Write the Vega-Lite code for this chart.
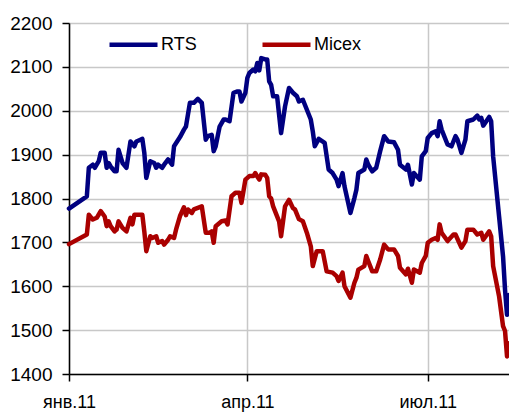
{
  "$schema": "https://vega.github.io/schema/vega-lite/v6.json",
  "autosize": "none",
  "width": 440,
  "height": 351,
  "padding": {"left": 69, "top": 23, "right": 0, "bottom": 45},
  "background": "white",
  "config": {
    "view": {"stroke": null},
    "font": "Liberation Sans",
    "axis": {
      "labelFont": "Liberation Sans",
      "labelFontSize": 18,
      "labelColor": "black",
      "domainColor": "black",
      "domainWidth": 1.5,
      "tickColor": "black",
      "tickWidth": 1.5,
      "tickSize": 7,
      "gridColor": "#c8c8c8",
      "gridWidth": 1.5,
      "title": null
    }
  },
  "data": {
    "values": [
      {"date": "2011-01-01", "index": "RTS", "value": 1777},
      {"date": "2011-01-10", "index": "RTS", "value": 1805},
      {"date": "2011-01-11", "index": "RTS", "value": 1870},
      {"date": "2011-01-13", "index": "RTS", "value": 1877},
      {"date": "2011-01-14", "index": "RTS", "value": 1870},
      {"date": "2011-01-16", "index": "RTS", "value": 1885},
      {"date": "2011-01-17", "index": "RTS", "value": 1904},
      {"date": "2011-01-19", "index": "RTS", "value": 1904},
      {"date": "2011-01-20", "index": "RTS", "value": 1870},
      {"date": "2011-01-21", "index": "RTS", "value": 1881},
      {"date": "2011-01-22", "index": "RTS", "value": 1873},
      {"date": "2011-01-24", "index": "RTS", "value": 1862},
      {"date": "2011-01-25", "index": "RTS", "value": 1862},
      {"date": "2011-01-26", "index": "RTS", "value": 1911},
      {"date": "2011-01-28", "index": "RTS", "value": 1881},
      {"date": "2011-01-30", "index": "RTS", "value": 1870},
      {"date": "2011-02-01", "index": "RTS", "value": 1930},
      {"date": "2011-02-03", "index": "RTS", "value": 1919},
      {"date": "2011-02-04", "index": "RTS", "value": 1930},
      {"date": "2011-02-06", "index": "RTS", "value": 1934},
      {"date": "2011-02-07", "index": "RTS", "value": 1936},
      {"date": "2011-02-08", "index": "RTS", "value": 1904},
      {"date": "2011-02-09", "index": "RTS", "value": 1847},
      {"date": "2011-02-11", "index": "RTS", "value": 1885},
      {"date": "2011-02-13", "index": "RTS", "value": 1881},
      {"date": "2011-02-14", "index": "RTS", "value": 1870},
      {"date": "2011-02-15", "index": "RTS", "value": 1877},
      {"date": "2011-02-17", "index": "RTS", "value": 1870},
      {"date": "2011-02-18", "index": "RTS", "value": 1877},
      {"date": "2011-02-20", "index": "RTS", "value": 1889},
      {"date": "2011-02-22", "index": "RTS", "value": 1877},
      {"date": "2011-02-23", "index": "RTS", "value": 1919},
      {"date": "2011-02-26", "index": "RTS", "value": 1940},
      {"date": "2011-02-28", "index": "RTS", "value": 1957},
      {"date": "2011-03-01", "index": "RTS", "value": 1964},
      {"date": "2011-03-03", "index": "RTS", "value": 2018},
      {"date": "2011-03-05", "index": "RTS", "value": 2018},
      {"date": "2011-03-07", "index": "RTS", "value": 2027},
      {"date": "2011-03-09", "index": "RTS", "value": 2018},
      {"date": "2011-03-11", "index": "RTS", "value": 1934},
      {"date": "2011-03-12", "index": "RTS", "value": 1942},
      {"date": "2011-03-14", "index": "RTS", "value": 1945},
      {"date": "2011-03-15", "index": "RTS", "value": 1908},
      {"date": "2011-03-16", "index": "RTS", "value": 1919},
      {"date": "2011-03-18", "index": "RTS", "value": 1964},
      {"date": "2011-03-20", "index": "RTS", "value": 1980},
      {"date": "2011-03-21", "index": "RTS", "value": 1980},
      {"date": "2011-03-23", "index": "RTS", "value": 1976},
      {"date": "2011-03-25", "index": "RTS", "value": 2041},
      {"date": "2011-03-27", "index": "RTS", "value": 2044},
      {"date": "2011-03-28", "index": "RTS", "value": 2044},
      {"date": "2011-03-29", "index": "RTS", "value": 2021},
      {"date": "2011-03-31", "index": "RTS", "value": 2041},
      {"date": "2011-04-01", "index": "RTS", "value": 2075},
      {"date": "2011-04-02", "index": "RTS", "value": 2086},
      {"date": "2011-04-04", "index": "RTS", "value": 2094},
      {"date": "2011-04-05", "index": "RTS", "value": 2090},
      {"date": "2011-04-06", "index": "RTS", "value": 2109},
      {"date": "2011-04-07", "index": "RTS", "value": 2092},
      {"date": "2011-04-08", "index": "RTS", "value": 2120},
      {"date": "2011-04-10", "index": "RTS", "value": 2117},
      {"date": "2011-04-11", "index": "RTS", "value": 2117},
      {"date": "2011-04-12", "index": "RTS", "value": 2067},
      {"date": "2011-04-13", "index": "RTS", "value": 2059},
      {"date": "2011-04-14", "index": "RTS", "value": 2033},
      {"date": "2011-04-16", "index": "RTS", "value": 2033},
      {"date": "2011-04-18", "index": "RTS", "value": 1949},
      {"date": "2011-04-20", "index": "RTS", "value": 2010},
      {"date": "2011-04-22", "index": "RTS", "value": 2052},
      {"date": "2011-04-24", "index": "RTS", "value": 2041},
      {"date": "2011-04-26", "index": "RTS", "value": 2033},
      {"date": "2011-04-27", "index": "RTS", "value": 2021},
      {"date": "2011-04-29", "index": "RTS", "value": 2025},
      {"date": "2011-05-03", "index": "RTS", "value": 1980},
      {"date": "2011-05-04", "index": "RTS", "value": 1953},
      {"date": "2011-05-05", "index": "RTS", "value": 1919},
      {"date": "2011-05-07", "index": "RTS", "value": 1936},
      {"date": "2011-05-10", "index": "RTS", "value": 1927},
      {"date": "2011-05-12", "index": "RTS", "value": 1866},
      {"date": "2011-05-14", "index": "RTS", "value": 1858},
      {"date": "2011-05-16", "index": "RTS", "value": 1843},
      {"date": "2011-05-17", "index": "RTS", "value": 1828},
      {"date": "2011-05-19", "index": "RTS", "value": 1858},
      {"date": "2011-05-20", "index": "RTS", "value": 1828},
      {"date": "2011-05-23", "index": "RTS", "value": 1767},
      {"date": "2011-05-25", "index": "RTS", "value": 1801},
      {"date": "2011-05-26", "index": "RTS", "value": 1820},
      {"date": "2011-05-27", "index": "RTS", "value": 1858},
      {"date": "2011-05-30", "index": "RTS", "value": 1866},
      {"date": "2011-05-31", "index": "RTS", "value": 1889},
      {"date": "2011-06-01", "index": "RTS", "value": 1877},
      {"date": "2011-06-03", "index": "RTS", "value": 1862},
      {"date": "2011-06-05", "index": "RTS", "value": 1870},
      {"date": "2011-06-07", "index": "RTS", "value": 1908},
      {"date": "2011-06-09", "index": "RTS", "value": 1942},
      {"date": "2011-06-11", "index": "RTS", "value": 1930},
      {"date": "2011-06-14", "index": "RTS", "value": 1928},
      {"date": "2011-06-16", "index": "RTS", "value": 1911},
      {"date": "2011-06-17", "index": "RTS", "value": 1877},
      {"date": "2011-06-20", "index": "RTS", "value": 1866},
      {"date": "2011-06-21", "index": "RTS", "value": 1877},
      {"date": "2011-06-23", "index": "RTS", "value": 1832},
      {"date": "2011-06-24", "index": "RTS", "value": 1858},
      {"date": "2011-06-27", "index": "RTS", "value": 1843},
      {"date": "2011-06-28", "index": "RTS", "value": 1896},
      {"date": "2011-06-30", "index": "RTS", "value": 1908},
      {"date": "2011-07-01", "index": "RTS", "value": 1938},
      {"date": "2011-07-03", "index": "RTS", "value": 1949},
      {"date": "2011-07-05", "index": "RTS", "value": 1953},
      {"date": "2011-07-06", "index": "RTS", "value": 1942},
      {"date": "2011-07-07", "index": "RTS", "value": 1976},
      {"date": "2011-07-08", "index": "RTS", "value": 1957},
      {"date": "2011-07-11", "index": "RTS", "value": 1923},
      {"date": "2011-07-13", "index": "RTS", "value": 1919},
      {"date": "2011-07-15", "index": "RTS", "value": 1942},
      {"date": "2011-07-16", "index": "RTS", "value": 1934},
      {"date": "2011-07-18", "index": "RTS", "value": 1904},
      {"date": "2011-07-20", "index": "RTS", "value": 1934},
      {"date": "2011-07-21", "index": "RTS", "value": 1976},
      {"date": "2011-07-24", "index": "RTS", "value": 1980},
      {"date": "2011-07-26", "index": "RTS", "value": 1989},
      {"date": "2011-07-27", "index": "RTS", "value": 1980},
      {"date": "2011-07-28", "index": "RTS", "value": 1984},
      {"date": "2011-07-29", "index": "RTS", "value": 1966},
      {"date": "2011-08-01", "index": "RTS", "value": 1986},
      {"date": "2011-08-02", "index": "RTS", "value": 1976},
      {"date": "2011-08-03", "index": "RTS", "value": 1896},
      {"date": "2011-08-06", "index": "RTS", "value": 1759},
      {"date": "2011-08-08", "index": "RTS", "value": 1668},
      {"date": "2011-08-09", "index": "RTS", "value": 1592},
      {"date": "2011-08-10", "index": "RTS", "value": 1535},
      {"date": "2011-08-11", "index": "RTS", "value": 1580},
      {"date": "2011-01-01", "index": "Micex", "value": 1696},
      {"date": "2011-01-10", "index": "Micex", "value": 1718},
      {"date": "2011-01-11", "index": "Micex", "value": 1763},
      {"date": "2011-01-13", "index": "Micex", "value": 1752},
      {"date": "2011-01-15", "index": "Micex", "value": 1756},
      {"date": "2011-01-17", "index": "Micex", "value": 1771},
      {"date": "2011-01-19", "index": "Micex", "value": 1759},
      {"date": "2011-01-20", "index": "Micex", "value": 1737},
      {"date": "2011-01-21", "index": "Micex", "value": 1748},
      {"date": "2011-01-22", "index": "Micex", "value": 1737},
      {"date": "2011-01-24", "index": "Micex", "value": 1725},
      {"date": "2011-01-25", "index": "Micex", "value": 1729},
      {"date": "2011-01-26", "index": "Micex", "value": 1748},
      {"date": "2011-01-28", "index": "Micex", "value": 1733},
      {"date": "2011-01-30", "index": "Micex", "value": 1725},
      {"date": "2011-02-01", "index": "Micex", "value": 1756},
      {"date": "2011-02-02", "index": "Micex", "value": 1741},
      {"date": "2011-02-03", "index": "Micex", "value": 1763},
      {"date": "2011-02-06", "index": "Micex", "value": 1763},
      {"date": "2011-02-07", "index": "Micex", "value": 1763},
      {"date": "2011-02-08", "index": "Micex", "value": 1725},
      {"date": "2011-02-09", "index": "Micex", "value": 1680},
      {"date": "2011-02-11", "index": "Micex", "value": 1714},
      {"date": "2011-02-12", "index": "Micex", "value": 1710},
      {"date": "2011-02-14", "index": "Micex", "value": 1714},
      {"date": "2011-02-15", "index": "Micex", "value": 1699},
      {"date": "2011-02-17", "index": "Micex", "value": 1703},
      {"date": "2011-02-18", "index": "Micex", "value": 1695},
      {"date": "2011-02-20", "index": "Micex", "value": 1706},
      {"date": "2011-02-21", "index": "Micex", "value": 1714},
      {"date": "2011-02-23", "index": "Micex", "value": 1710},
      {"date": "2011-02-24", "index": "Micex", "value": 1729},
      {"date": "2011-02-26", "index": "Micex", "value": 1760},
      {"date": "2011-02-28", "index": "Micex", "value": 1780},
      {"date": "2011-03-01", "index": "Micex", "value": 1762},
      {"date": "2011-03-02", "index": "Micex", "value": 1775},
      {"date": "2011-03-04", "index": "Micex", "value": 1767},
      {"date": "2011-03-05", "index": "Micex", "value": 1775},
      {"date": "2011-03-09", "index": "Micex", "value": 1782},
      {"date": "2011-03-11", "index": "Micex", "value": 1722},
      {"date": "2011-03-13", "index": "Micex", "value": 1722},
      {"date": "2011-03-14", "index": "Micex", "value": 1725},
      {"date": "2011-03-15", "index": "Micex", "value": 1699},
      {"date": "2011-03-16", "index": "Micex", "value": 1737},
      {"date": "2011-03-19", "index": "Micex", "value": 1748},
      {"date": "2011-03-21", "index": "Micex", "value": 1750},
      {"date": "2011-03-22", "index": "Micex", "value": 1741},
      {"date": "2011-03-24", "index": "Micex", "value": 1805},
      {"date": "2011-03-26", "index": "Micex", "value": 1813},
      {"date": "2011-03-28", "index": "Micex", "value": 1813},
      {"date": "2011-03-29", "index": "Micex", "value": 1790},
      {"date": "2011-03-30", "index": "Micex", "value": 1816},
      {"date": "2011-03-31", "index": "Micex", "value": 1843},
      {"date": "2011-04-02", "index": "Micex", "value": 1851},
      {"date": "2011-04-04", "index": "Micex", "value": 1851},
      {"date": "2011-04-05", "index": "Micex", "value": 1858},
      {"date": "2011-04-06", "index": "Micex", "value": 1850},
      {"date": "2011-04-07", "index": "Micex", "value": 1843},
      {"date": "2011-04-08", "index": "Micex", "value": 1855},
      {"date": "2011-04-10", "index": "Micex", "value": 1854},
      {"date": "2011-04-11", "index": "Micex", "value": 1847},
      {"date": "2011-04-12", "index": "Micex", "value": 1805},
      {"date": "2011-04-13", "index": "Micex", "value": 1800},
      {"date": "2011-04-14", "index": "Micex", "value": 1782},
      {"date": "2011-04-17", "index": "Micex", "value": 1748},
      {"date": "2011-04-18", "index": "Micex", "value": 1714},
      {"date": "2011-04-20", "index": "Micex", "value": 1782},
      {"date": "2011-04-22", "index": "Micex", "value": 1797},
      {"date": "2011-04-24", "index": "Micex", "value": 1778},
      {"date": "2011-04-25", "index": "Micex", "value": 1775},
      {"date": "2011-04-27", "index": "Micex", "value": 1753},
      {"date": "2011-04-29", "index": "Micex", "value": 1748},
      {"date": "2011-05-01", "index": "Micex", "value": 1722},
      {"date": "2011-05-03", "index": "Micex", "value": 1691},
      {"date": "2011-05-04", "index": "Micex", "value": 1646},
      {"date": "2011-05-06", "index": "Micex", "value": 1680},
      {"date": "2011-05-09", "index": "Micex", "value": 1680},
      {"date": "2011-05-11", "index": "Micex", "value": 1634},
      {"date": "2011-05-14", "index": "Micex", "value": 1631},
      {"date": "2011-05-16", "index": "Micex", "value": 1623},
      {"date": "2011-05-17", "index": "Micex", "value": 1612},
      {"date": "2011-05-19", "index": "Micex", "value": 1631},
      {"date": "2011-05-20", "index": "Micex", "value": 1600},
      {"date": "2011-05-23", "index": "Micex", "value": 1574},
      {"date": "2011-05-25", "index": "Micex", "value": 1608},
      {"date": "2011-05-26", "index": "Micex", "value": 1619},
      {"date": "2011-05-27", "index": "Micex", "value": 1638},
      {"date": "2011-05-30", "index": "Micex", "value": 1646},
      {"date": "2011-05-31", "index": "Micex", "value": 1669},
      {"date": "2011-06-01", "index": "Micex", "value": 1657},
      {"date": "2011-06-03", "index": "Micex", "value": 1634},
      {"date": "2011-06-05", "index": "Micex", "value": 1634},
      {"date": "2011-06-07", "index": "Micex", "value": 1661},
      {"date": "2011-06-09", "index": "Micex", "value": 1695},
      {"date": "2011-06-11", "index": "Micex", "value": 1684},
      {"date": "2011-06-14", "index": "Micex", "value": 1684},
      {"date": "2011-06-16", "index": "Micex", "value": 1669},
      {"date": "2011-06-17", "index": "Micex", "value": 1642},
      {"date": "2011-06-20", "index": "Micex", "value": 1627},
      {"date": "2011-06-21", "index": "Micex", "value": 1640},
      {"date": "2011-06-23", "index": "Micex", "value": 1608},
      {"date": "2011-06-24", "index": "Micex", "value": 1638},
      {"date": "2011-06-27", "index": "Micex", "value": 1631},
      {"date": "2011-06-28", "index": "Micex", "value": 1653},
      {"date": "2011-06-30", "index": "Micex", "value": 1669},
      {"date": "2011-07-01", "index": "Micex", "value": 1699},
      {"date": "2011-07-03", "index": "Micex", "value": 1706},
      {"date": "2011-07-05", "index": "Micex", "value": 1710},
      {"date": "2011-07-06", "index": "Micex", "value": 1706},
      {"date": "2011-07-07", "index": "Micex", "value": 1741},
      {"date": "2011-07-08", "index": "Micex", "value": 1722},
      {"date": "2011-07-11", "index": "Micex", "value": 1703},
      {"date": "2011-07-14", "index": "Micex", "value": 1718},
      {"date": "2011-07-15", "index": "Micex", "value": 1718},
      {"date": "2011-07-18", "index": "Micex", "value": 1688},
      {"date": "2011-07-20", "index": "Micex", "value": 1703},
      {"date": "2011-07-21", "index": "Micex", "value": 1729},
      {"date": "2011-07-24", "index": "Micex", "value": 1729},
      {"date": "2011-07-26", "index": "Micex", "value": 1718},
      {"date": "2011-07-28", "index": "Micex", "value": 1722},
      {"date": "2011-07-29", "index": "Micex", "value": 1706},
      {"date": "2011-08-01", "index": "Micex", "value": 1725},
      {"date": "2011-08-02", "index": "Micex", "value": 1714},
      {"date": "2011-08-03", "index": "Micex", "value": 1646},
      {"date": "2011-08-06", "index": "Micex", "value": 1577},
      {"date": "2011-08-08", "index": "Micex", "value": 1509},
      {"date": "2011-08-09", "index": "Micex", "value": 1498},
      {"date": "2011-08-10", "index": "Micex", "value": 1440},
      {"date": "2011-08-11", "index": "Micex", "value": 1470}
    ]
  },
  "mark": {"type": "line", "strokeWidth": 4.5, "strokeJoin": "round", "strokeCap": "round"},
  "encoding": {
    "x": {
      "field": "date",
      "type": "temporal",
      "scale": {
        "type": "utc",
        "domain": [
          {"year": 2011, "month": 1, "date": 1, "utc": true},
          {"year": 2011, "month": 8, "date": 11, "utc": true}
        ]
      },
      "axis": {
        "values": [
          {"year": 2011, "month": 1, "date": 1, "utc": true},
          {"year": 2011, "month": 4, "date": 1, "utc": true},
          {"year": 2011, "month": 7, "date": 1, "utc": true}
        ],
        "labelExpr": "(utcmonth(datum.value) == 0 ? 'янв' : utcmonth(datum.value) == 3 ? 'апр' : 'июл') + '.11'",
        "labelPadding": 12,
        "labelAlign": "center",
        "labelFlush": false,
        "labelOverlap": false
      }
    },
    "y": {
      "field": "value",
      "type": "quantitative",
      "scale": {"domain": [1400, 2200], "nice": false, "zero": false},
      "axis": {
        "values": [1400, 1500, 1600, 1700, 1800, 1900, 2000, 2100, 2200],
        "format": "d",
        "labelFontSize": 19,
        "labelPadding": 10
      }
    },
    "color": {
      "field": "index",
      "type": "nominal",
      "scale": {"domain": ["RTS", "Micex"], "range": ["#000080", "#aa0000"]},
      "legend": {
        "orient": "none",
        "legendX": 38,
        "legendY": -5,
        "direction": "horizontal",
        "title": null,
        "symbolType": "stroke",
        "symbolSize": 2304,
        "symbolStrokeWidth": 4.5,
        "labelFontSize": 18,
        "labelFont": "Liberation Sans",
        "labelColor": "black",
        "labelOffset": 1,
        "columnPadding": 56,
        "padding": 0
      }
    }
  }
}
